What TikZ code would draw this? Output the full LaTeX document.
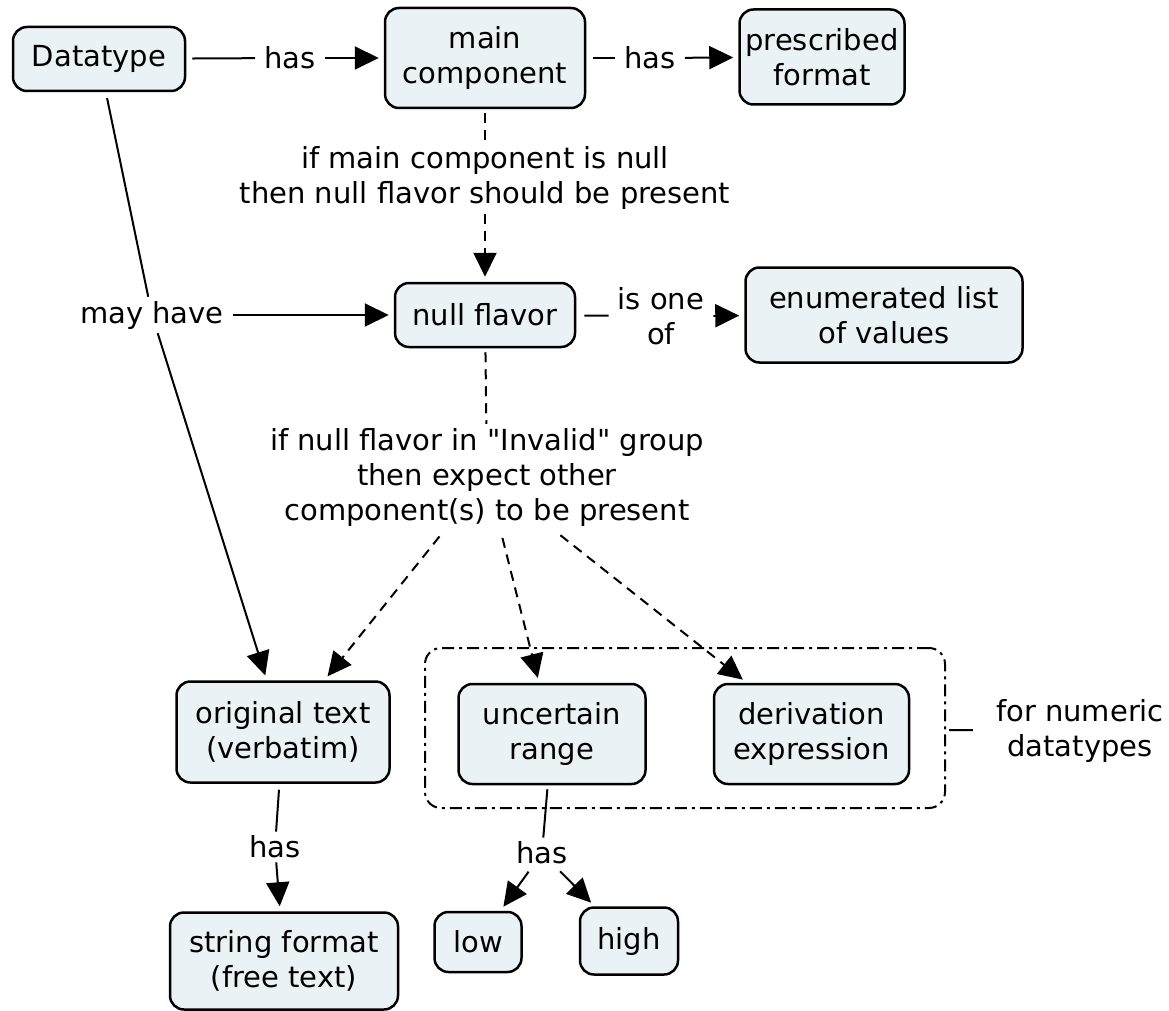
\documentclass[tikz,border=0pt]{standalone}
\usepackage{fontspec}
\setmainfont{DejaVu Sans}
\usetikzlibrary{arrows.meta}
\definecolor{conceptfill}{RGB}{235,242,245}
\begin{document}
\begin{tikzpicture}[x=1pt,y=-1pt,
  every node/.style={font=\fontsize{29}{35}\selectfont, align=center},
  concept/.style={draw, line width=2.5pt, fill=conceptfill, rounded corners=14pt, inner sep=0pt},
  linker/.style={inner xsep=9pt, inner ysep=4pt},
  conn/.style={line width=2pt},
  tip/.style={-{Triangle[length=24pt,width=23pt]}},
  dashedconn/.style={conn, dash pattern=on 10pt off 7pt},
  gap/.style={shorten >=5pt},
  groupbox/.style={draw, line width=2pt, rounded corners=16pt, dash pattern=on 12pt off 5pt on 3pt off 5pt, inner sep=0pt}]
\useasboundingbox (0,0) rectangle (1169,1011);

% concepts
\node[concept, minimum width=172pt, minimum height=64pt] (dt) at (99,59) {Datatype};
\node[concept, minimum width=200pt, minimum height=100pt] (mc) at (485,58) {main\\component};
\node[concept, minimum width=165pt, minimum height=95pt] (pf) at (822,57) {prescribed\\format};
\node[concept, minimum width=180pt, minimum height=64pt] (nf) at (485,315) {null flavor};
\node[concept, minimum width=277pt, minimum height=95pt] (en) at (884,315) {enumerated list\\of values};
\node[concept, minimum width=213pt, minimum height=101pt] (or) at (283,732) {original text\\(verbatim)};
\node[concept, minimum width=187pt, minimum height=100pt] (ur) at (552,734) {uncertain\\range};
\node[concept, minimum width=195pt, minimum height=100pt] (de) at (811.5,734) {derivation\\expression};
\node[concept, minimum width=228pt, minimum height=97pt] (sf) at (284,961) {string format\\(free text)};
\node[concept, minimum width=87pt, minimum height=60pt] (lo) at (478,942) {low};
\node[concept, minimum width=98pt, minimum height=67pt] (hi) at (629,941) {high};

% group of numeric components
\node[groupbox, minimum width=520pt, minimum height=160pt] (grp) at (685,728) {};

% linking phrases
\node[linker] (has1) at (290,58) {has};
\node[linker] (has2) at (650,58) {has};
\node[linker] (lab1) at (485,178) {if main component is null\\then null flavor should be present};
\node[linker] (mh) at (152,315) {may have};
\node[linker] (isone) at (661,316) {is one\\of};
\node[linker] (lab2) at (487,477) {if null flavor in \textquotedbl Invalid\textquotedbl{} group\\then expect other\\component(s) to be present};
\node[linker] (has4) at (275,847) {has};
\node[linker] (has3) at (542,853) {has};
\node[linker] (fn) at (1080,731) {for numeric\\datatypes};

% connections
\draw[conn, shorten <=6pt] (dt) -- (has1);
\draw[conn, tip, gap] (has1) -- (mc);
\draw[conn, shorten <=7pt] (mc) -- (has2);
\draw[conn, tip, gap] (has2) -- (pf);

\draw[dashedconn, shorten <=4pt] (mc) -- (lab1);
\draw[dashedconn, tip, gap] (lab1) -- (nf);

\draw[conn, shorten <=6pt] (dt) -- (mh);
\draw[conn, tip, gap] (mh) -- (nf);
\draw[conn, tip, gap] (mh) -- (or);

\draw[conn, shorten <=8pt] (nf) -- (isone);
\draw[conn, tip, gap] (isone) -- (en);

\draw[dashedconn, shorten <=4pt] (nf) -- (lab2);
\draw[dashedconn, tip, gap, shorten <=8pt] (lab2) -- (or);
\draw[dashedconn, tip, gap, shorten <=8pt] (lab2) -- (ur);
\draw[dashedconn, tip, gap, shorten <=8pt] (lab2) -- (de);

\draw[conn, shorten <=6pt] (or) -- (has4);
\draw[conn, tip, gap] (has4) -- (sf);

\draw[conn, shorten <=4pt] (ur) -- (has3);
\draw[conn, tip, gap, shorten <=4pt] (has3) -- (lo);
\draw[conn, tip, gap, shorten <=4pt] (has3) -- (hi);

\draw[conn, shorten <=3pt, shorten >=14pt] (grp) -- (fn);
\end{tikzpicture}
\end{document}
